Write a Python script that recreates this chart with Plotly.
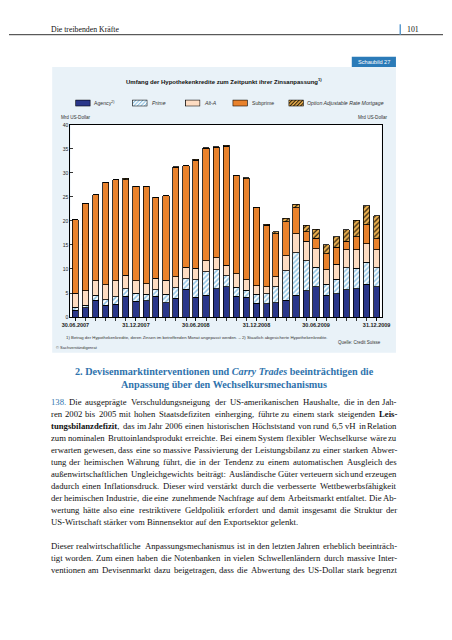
import re
import base64
import plotly.graph_objects as go

# ---------------- data ----------------
dates = ["2007-06-30", "2007-07-31", "2007-08-31", "2007-09-30", "2007-10-31", "2007-11-30",
         "2007-12-31", "2008-01-31", "2008-02-29", "2008-03-31", "2008-04-30", "2008-05-31",
         "2008-06-30", "2008-07-31", "2008-08-31", "2008-09-30", "2008-10-31", "2008-11-30",
         "2008-12-31", "2009-01-31", "2009-02-28", "2009-03-31", "2009-04-30", "2009-05-31",
         "2009-06-30", "2009-07-31", "2009-08-31", "2009-09-30", "2009-10-31", "2009-11-30",
         "2009-12-31"]
tick_dates = ["2007-06-30", "2007-12-31", "2008-06-30", "2008-12-31", "2009-06-30", "2009-12-31"]
tick_labels = ["30.06.2007", "31.12.2007", "30.06.2008", "31.12.2008", "30.06.2009", "31.12.2009"]

agency = [1.45, 1.9, 3.5, 2.5, 2.7, 4.3, 3.3, 3.4, 4.3, 3.0, 3.9, 5.8, 4.1, 4.5, 5.9, 6.3,
          4.3, 4.1, 2.9, 2.8, 3.0, 3.5, 4.5, 5.5, 6.3, 4.5, 4.85, 5.7, 5.9, 6.8, 6.3]
prime = [0.55, 0.6, 1.0, 1.1, 1.5, 1.55, 1.6, 1.35, 1.4, 1.7, 2.2, 2.2, 3.7, 4.9, 3.9, 2.3,
         1.9, 1.5, 1.8, 2.0, 3.35, 6.1, 8.9, 6.2, 4.05, 2.3, 3.0, 4.6, 4.3, 4.6, 4.0]
alt_a = [3.0, 3.0, 3.0, 3.1, 3.4, 2.85, 2.6, 2.2, 2.4, 3.0, 2.3, 2.4, 2.4, 2.3, 2.5, 2.2,
         2.8, 2.2, 1.8, 1.5, 2.05, 3.2, 3.9, 4.1, 3.85, 3.05, 3.1, 3.7, 3.8, 3.9, 3.7]
subprime = [15.2, 18.2, 18.0, 21.4, 21.0, 19.9, 19.7, 20.25, 16.8, 17.5, 22.8, 21.05, 22.4, 23.4,
            23.0, 24.7, 20.4, 21.0, 16.2, 12.8, 8.9, 7.0, 5.4, 2.0, 2.2, 3.3, 3.55, 1.75, 2.7,
            3.9, 2.3]
option_arm = [0, 0, 0, 0, 0, 0.25, 0, 0, 0, 0, 0.1, 0.05, 0.2, 0.15, 0.15, 0.25, 0.1, 0.15,
              0.2, 0.25, 0.45, 0.8, 0.8, 1.35, 1.9, 1.85, 2.2, 2.45, 3.4, 4.0, 4.8]

series_names = ["Agency<sup>2)</sup>", "Prime", "Alt-A", "Subprime", "Option Adjustable Rate Mortgage"]
y_ticks = [0, 5, 10, 15, 20, 25, 30, 35, 40]

# ---------------- text ----------------
header_left = "Die treibenden Kräfte"
header_page = "101"
badge = "Schaubild 27"
chart_title = "Umfang der Hypothekenkredite zum Zeitpunkt ihrer Zinsanpassung<sup>1)</sup>"
unit_label = "Mrd US-Dollar"
footnote = ("1) Betrag der Hypothekenkredite, deren Zinsen im betreffenden Monat angepasst werden. "
            "– 2) Staatlich abgesicherte Hypothekenkredite.")
source = "Quelle: Credit Suisse"
copyright_note = "© Sachverständigenrat"
heading_lines = ["2. Devisenmarktinterventionen und <i>Carry Trades</i> beeinträchtigen die",
                 "Anpassung über den Wechselkursmechanismus"]
BLUE_TXT = "#2f73ad"
paragraphs = [
    [
        "<span style='color:#2f73ad'>138.</span> Die ausgeprägte Verschuldungsneigung der US-amerikanischen Haushalte, die in den Jah-",
        "ren 2002 bis 2005 mit hohen Staatsdefiziten einherging, führte zu einem stark steigenden <b>Leis-</b>",
        "<b>tungsbilanzdefizit</b>, das im Jahr 2006 einen historischen Höchststand von rund 6,5 vH in Relation",
        "zum nominalen Bruttoinlandsprodukt erreichte. Bei einem System flexibler Wechselkurse wäre zu",
        "erwarten gewesen, dass eine so massive Passivierung der Leistungsbilanz zu einer starken Abwer-",
        "tung der heimischen Währung führt, die in der Tendenz zu einem automatischen Ausgleich des",
        "außenwirtschaftlichen Ungleichgewichts beiträgt: Ausländische Güter verteuern sich und erzeugen",
        "dadurch einen Inflationsdruck. Dieser wird verstärkt durch die verbesserte Wettbewerbsfähigkeit",
        "der heimischen Industrie, die eine zunehmende Nachfrage auf dem Arbeitsmarkt entfaltet. Die Ab-",
        "wertung hätte also eine restriktivere Geldpolitik erfordert und damit insgesamt die Struktur der",
        "US-Wirtschaft stärker vom Binnensektor auf den Exportsektor gelenkt.",
    ],
    [
        "Dieser realwirtschaftliche Anpassungsmechanismus ist in den letzten Jahren erheblich beeinträch-",
        "tigt worden. Zum einen haben die Notenbanken in vielen Schwellenländern durch massive Inter-",
        "ventionen am Devisenmarkt dazu beigetragen, dass die Abwertung des US-Dollar stark begrenzt",
    ],
]
paragraph_last_justified = [False, True]

# ---------------- styling ----------------
W, H = 452, 640
SANS = "Liberation Sans, Arial, sans-serif"
SERIF = "Liberation Serif, Times New Roman, serif"
C_AGENCY = "#2a378a"
C_PRIME_FG = "#8cc2e4"
C_ALTA = "#fddcc2"
C_SUB = "#e9822c"
C_ARM_BG = "#efb24e"
C_ARM_FG = "#2a1e0c"
C_PANEL = "#e9f2f8"
C_BADGE = "#2b7bb8"
DAY_MS = 86400000


def px(x):
    return x / W


def py(y):
    return 1 - y / H


fig = go.Figure()
markers = [
    dict(color=C_AGENCY),
    dict(color="white", pattern=dict(shape="/", fgcolor=C_PRIME_FG, bgcolor="white",
                                     size=3.5, solidity=0.45, fillmode="replace")),
    dict(color=C_ALTA),
    dict(color=C_SUB),
    dict(color=C_ARM_BG, pattern=dict(shape="/", fgcolor=C_ARM_FG, bgcolor=C_ARM_BG,
                                      size=3.5, solidity=0.35, fillmode="replace")),
]
for name, vals, mk in zip(series_names, [agency, prime, alt_a, subprime, option_arm], markers):
    fig.add_trace(go.Bar(x=dates, y=vals, name=name, width=0.62 * 30.44 * DAY_MS, showlegend=False,
                         marker=dict(**mk, line=dict(color="black", width=0.8))))

plot_l, plot_r, plot_t, plot_b = 64, 388, 123, 317

shapes = [
    dict(type="rect", xref="paper", yref="paper", x0=px(45), x1=px(403), y0=py(353), y1=py(64.7),
         fillcolor=C_PANEL, line=dict(width=0), layer="below"),
    dict(type="rect", xref="paper", yref="paper", x0=px(plot_l), x1=px(plot_r), y0=py(plot_b),
         y1=py(plot_t), fillcolor="white", line=dict(width=0), layer="below"),
    dict(type="rect", xref="paper", yref="paper", x0=px(357), x1=px(403), y0=py(64.7), y1=py(54.3),
         fillcolor=C_BADGE, line=dict(width=0)),
    dict(type="line", xref="paper", yref="paper", x0=0, x1=1, y0=py(32), y1=py(32),
         line=dict(color="#333333", width=1)),
    dict(type="line", xref="paper", yref="paper", x0=px(407.5), x1=px(407.5), y0=py(21.5), y1=py(32),
         line=dict(color="#5b9bd0", width=1.5)),
]

annotations = []


def ann(text, x, y, size, xanchor="left", color="#222222", family=SANS, **kw):
    annotations.append(dict(text=text, x=px(x), y=py(y), xref="paper", yref="paper",
                            xanchor=xanchor, yanchor="middle", showarrow=False,
                            font=dict(size=size, color=color, family=family), **kw))


# page header
ann(header_left, 42, 26.5, 7.8, family=SERIF, color="#111111")
ann(header_page, 412, 26.5, 7.8, family=SERIF, color="#111111")
# chart texts
ann(badge, 380, 59.5, 5.6, xanchor="center", color="white")
ann(f"<b>{chart_title}</b>", 224, 78.5, 6.0, xanchor="center", color="#111111")
ann(unit_label, 52, 116, 4.6, color="#333333")
ann(unit_label, 397, 116, 4.6, xanchor="right", color="#333333")
ann(footnote, 57, 337.7, 4.3, color="#333333")
ann(source, 390, 343, 4.5, xanchor="right", color="#333333")
ann(copyright_note, 47, 348, 4.0, color="#333333")

# legend
legend_swatch_x = [69, 128.3, 183.3, 232.7, 291]
legend_label_x = [86.5, 146.5, 200.5, 250.5, 308.5]
legend_styles = [(C_AGENCY, None), ("#ffffff", C_PRIME_FG), (C_ALTA, None), (C_SUB, None), (C_ARM_BG, C_ARM_FG)]
legend_italic = [False, True, True, False, True]


def swatch(bg, fg):
    pat = ""
    fill = bg
    if fg:
        pat = ("<defs><pattern id='p' width='2.6' height='2.6' patternUnits='userSpaceOnUse' "
               "patternTransform='rotate(45)'>"
               f"<rect width='2.6' height='2.6' fill='{bg}'/><rect width='1.1' height='2.6' fill='{fg}'/>"
               "</pattern></defs>")
        fill = "url(#p)"
    svg = ("<svg xmlns='http://www.w3.org/2000/svg' width='64' height='28' viewBox='0 0 16 7'>"
           f"{pat}<rect x='0.4' y='0.4' width='15.2' height='6.2' fill='{fill}' stroke='#000' stroke-width='0.8'/></svg>")
    return "data:image/svg+xml;base64," + base64.b64encode(svg.encode()).decode()


images = []
for name, sx, lx, (bg, fg), it in zip(series_names, legend_swatch_x, legend_label_x, legend_styles, legend_italic):
    images.append(dict(source=swatch(bg, fg), xref="paper", yref="paper", x=px(sx), y=py(97.5),
                       sizex=16 / W, sizey=7 / H, xanchor="left", yanchor="top", sizing="stretch",
                       layer="above"))
    ann(f"<i>{name}</i>" if it else name, lx, 101, 5.2, color="#333333")

# section heading
ann(f"<b>{heading_lines[0]}</b>", 224, 372.3, 10.2, xanchor="center", color=BLUE_TXT, family=SERIF)
ann(f"<b>{heading_lines[1]}</b>", 224, 385.3, 10.2, xanchor="center", color=BLUE_TXT, family=SERIF)

# body text: justified by placing each word at its estimated centre (Times metrics)
TIMES = {' ': 250, ',': 250, '-': 333, '.': 250, ':': 278, ';': 278, '(': 333, ')': 333, '–': 500,
         'A': 722, 'B': 667, 'C': 667, 'D': 722, 'E': 611, 'F': 556, 'G': 722, 'H': 722, 'I': 333,
         'J': 389, 'K': 722, 'L': 611, 'M': 889, 'N': 722, 'O': 722, 'P': 556, 'Q': 722, 'R': 667,
         'S': 556, 'T': 611, 'U': 722, 'V': 722, 'W': 944, 'X': 722, 'Y': 722, 'Z': 611,
         'a': 444, 'b': 500, 'c': 444, 'd': 500, 'e': 444, 'f': 333, 'g': 500, 'h': 500, 'i': 278,
         'j': 278, 'k': 500, 'l': 278, 'm': 778, 'n': 500, 'o': 500, 'p': 500, 'q': 500, 'r': 333,
         's': 389, 't': 278, 'u': 500, 'v': 500, 'w': 722, 'x': 500, 'y': 500, 'z': 444,
         'ä': 444, 'ö': 500, 'ü': 500, 'ß': 500, 'Ä': 722, 'Ö': 722, 'Ü': 722}
TIMES_B = dict(TIMES)
TIMES_B.update({'a': 500, 'b': 556, 'd': 556, 'h': 556, 'k': 556, 'm': 833, 'n': 556, 'p': 556,
                'q': 556, 'r': 444, 't': 333, 'u': 556, 'ä': 500, 'ü': 556, 'L': 667})
WIDTH_FUDGE = 1.07


def word_width(word, size):
    total = 0
    bold = False
    for tok in re.split(r'(<[^>]+>)', word):
        if tok.startswith('<'):
            if tok == '<b>':
                bold = True
            elif tok == '</b>':
                bold = False
            continue
        tab = TIMES_B if bold else TIMES
        for ch in tok:
            total += tab.get(ch, 500)
    return total / 1000 * size * WIDTH_FUDGE


BODY_SIZE = 8.7
BODY_L, BODY_R = 43, 405
LINE_H = 12.17
para_tops = [402.7, 547.7]
for lines, y0, last_just in zip(paragraphs, para_tops, paragraph_last_justified):
    for i, line in enumerate(lines):
        y = y0 + i * LINE_H
        justify = (i < len(lines) - 1) or last_just
        if not justify:
            ann(line, BODY_L - 1, y, BODY_SIZE, xanchor="left", color="#111111", family=SERIF)
            continue
        protected = re.sub(r"<span style='[^']*'>", lambda m: m.group(0).replace(' ', '\x00'), line)
        words = [w.replace('\x00', ' ') for w in protected.split(' ')]
        widths = [word_width(w, BODY_SIZE) for w in words]
        gap = (BODY_R - BODY_L - sum(widths)) / (len(words) - 1)
        x = BODY_L
        for j, (w, wd) in enumerate(zip(words, widths)):
            if j == 0:
                ann(w, BODY_L - 1, y, BODY_SIZE, xanchor="left", color="#111111", family=SERIF)
            elif j == len(words) - 1:
                ann(w, BODY_R + 1, y, BODY_SIZE, xanchor="right", color="#111111", family=SERIF)
            else:
                ann(w, x + wd / 2, y, BODY_SIZE, xanchor="center", color="#111111", family=SERIF)
            x += wd + gap

axis_font = dict(family=SANS, size=5, color="#222222")
fig.update_layout(
    width=W, height=H, autosize=False,
    margin=dict(l=0, r=0, t=0, b=0),
    paper_bgcolor="white", plot_bgcolor="rgba(0,0,0,0)",
    barmode="stack", showlegend=False,
    shapes=shapes, annotations=annotations, images=images,
    xaxis=dict(domain=[px(plot_l), px(plot_r)], type="date",
               range=["2007-06-15", "2010-01-15"],
               tickmode="array", tickvals=tick_dates, ticktext=[f"<b>{t}</b>" for t in tick_labels],
               ticks="outside", ticklen=2.5, tickwidth=0.8, tickcolor="black",
               tickfont=dict(family=SANS, size=5.5, color="#222222"), tickangle=0,
               minor=dict(tickmode="array", tickvals=dates, ticks="outside", ticklen=2.5,
                          tickwidth=0.8, tickcolor="black", showgrid=False),
               showline=True, linecolor="black", linewidth=1.2, mirror=True,
               showgrid=False, zeroline=False, fixedrange=True),
    yaxis=dict(domain=[py(plot_b), py(plot_t)], range=[0, 40], tickmode="array",
               tickvals=y_ticks,
               ticks="inside", ticklen=3, tickwidth=0.8, tickcolor="black",
               tickfont=axis_font, showline=True, linecolor="black", linewidth=1.2,
               mirror=True, showgrid=False, zeroline=False, fixedrange=True),
    yaxis2=dict(overlaying="y", side="right", anchor="x", matches="y", range=[0, 40],
                tickmode="array", tickvals=y_ticks,
                ticks="inside", ticklen=3, tickwidth=0.8, tickcolor="black",
                tickfont=axis_font, showline=False, showgrid=False, zeroline=False,
                fixedrange=True),
)

fig.write_html("out.html", config={"displayModeBar": False, "staticPlot": True},
               post_script="document.body.style.margin='0';document.body.style.overflow='hidden';")
